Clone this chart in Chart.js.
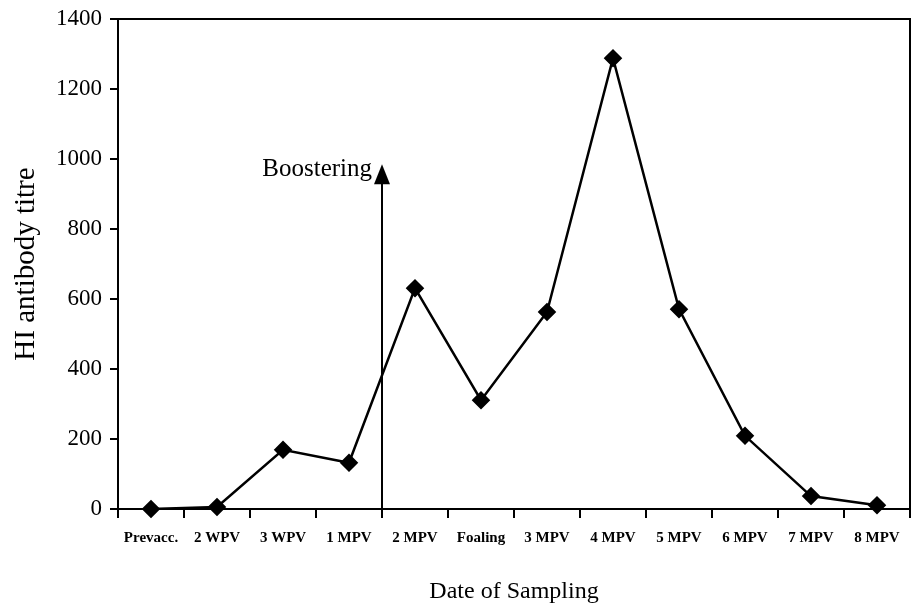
<!DOCTYPE html>
<html><head><meta charset="utf-8">
<script src="https://cdn.jsdelivr.net/npm/chart.js@4.4.0/dist/chart.umd.min.js"></script>
<style>html,body{margin:0;padding:0;background:#fff}#wrap{width:915px;height:610px}</style>
</head><body><div id="wrap"><canvas id="c" width="915" height="610"></canvas></div>
<script>
const categories = ["Prevacc.","2 WPV","3 WPV","1 MPV","2 MPV","Foaling","3 MPV","4 MPV","5 MPV","6 MPV","7 MPV","8 MPV"];
const titres = [0, 6, 169, 132, 631, 311, 563, 1288, 571, 209, 37, 11];
const yTicks = [0, 200, 400, 600, 800, 1000, 1200, 1400];
const boosterPosition = 3.5;   // between "1 MPV" and "2 MPV"
const boosterTop = 985;
const boosterLabel = "Boostering";

const serif = "'Liberation Serif', 'DejaVu Serif', serif";

const overlay = {
  id: 'overlay',
  afterDatasetsDraw(chart) {
    const ctx = chart.ctx, a = chart.chartArea;
    const xs = chart.scales.x, ys = chart.scales.y;
    ctx.save();
    ctx.strokeStyle = '#000';
    ctx.lineWidth = 2;
    ctx.strokeRect(a.left, a.top, a.right - a.left, a.bottom - a.top);
    // booster arrow
    const x = xs.getPixelForValue(boosterPosition);
    const yTop = ys.getPixelForValue(boosterTop);
    const yBot = ys.getPixelForValue(0) + 9;
    ctx.beginPath();
    ctx.moveTo(x, yBot);
    ctx.lineTo(x, yTop + 14);
    ctx.stroke();
    ctx.fillStyle = '#000';
    ctx.beginPath();
    ctx.moveTo(x, yTop);
    ctx.lineTo(x - 8, yTop + 20);
    ctx.lineTo(x + 8, yTop + 20);
    ctx.closePath();
    ctx.fill();
    ctx.font = "25px " + serif;
    ctx.textAlign = 'right';
    ctx.textBaseline = 'alphabetic';
    ctx.fillText(boosterLabel, x - 10, yTop + 12);
    ctx.restore();
  }
};

new Chart(document.getElementById('c'), {
  type: 'line',
  data: {
    labels: categories,
    datasets: [{
      data: titres,
      borderColor: '#000',
      backgroundColor: '#000',
      borderWidth: 2.5,
      pointStyle: 'rectRot',
      pointRadius: 7.5,
      pointHoverRadius: 7.5,
      tension: 0,
      clip: false
    }]
  },
  options: {
    responsive: false,
    animation: false,
    devicePixelRatio: 1,
    layout: { autoPadding: false, padding: { top: 19, right: 5, left: 0, bottom: 0 } },
    plugins: { legend: { display: false }, tooltip: { enabled: false } },
    scales: {
      x: {
        type: 'category',
        offset: true,
        grid: { display: true, offset: true, drawOnChartArea: false, drawTicks: true, tickLength: 9, color: '#000', lineWidth: 2 },
        border: { display: true, color: '#000', width: 2 },
        ticks: { color: '#000', font: { family: serif, size: 15, weight: 'bold' }, padding: 11, maxRotation: 0, autoSkip: false },
        title: { display: true, text: 'Date of Sampling', color: '#000', font: { family: serif, size: 24 }, padding: { top: 20, bottom: 4 } },
        afterFit(s) { s.height = 101; s.paddingLeft = 0; s.paddingRight = 0; }
      },
      y: {
        min: 0, max: 1400,
        afterBuildTicks(s) { s.ticks = yTicks.map(v => ({ value: v })); },
        grid: { display: true, drawOnChartArea: false, drawTicks: true, tickLength: 8, color: '#000', lineWidth: 2 },
        border: { display: true, color: '#000', width: 2 },
        ticks: { color: '#000', font: { family: serif, size: 23 }, padding: 8, callback: v => String(v) },
        title: { display: true, text: 'HI antibody titre', color: '#000', font: { family: serif, size: 29 }, padding: { top: 9, bottom: 12 } },
        afterFit(s) { s.width = 118; s.paddingTop = 0; s.paddingBottom = 0; }
      }
    }
  },
  plugins: [overlay]
});
</script>
</body></html>
